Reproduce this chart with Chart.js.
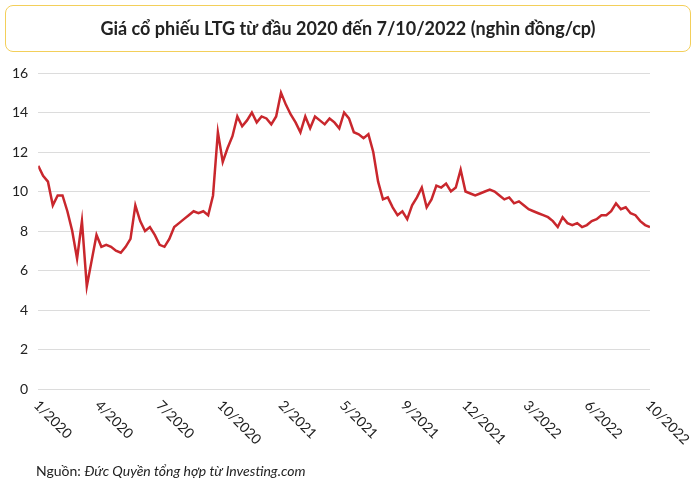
<!DOCTYPE html>
<html>
<head>
<meta charset="utf-8">
<script src="https://cdn.jsdelivr.net/npm/chart.js@4"></script>
<style>
  body { margin: 0; width: 700px; height: 490px; background: #fff; font-family: Lato, sans-serif; position: relative; overflow: hidden; }
  #title { position: absolute; left: 5px; top: 5px; width: 684px; height: 45px; border: 1.5px solid #f3cf5a; border-radius: 8px;
           text-align: center; line-height: 45px; font-weight: bold; font-size: 18px; color: #222; }
  #src { position: absolute; left: 36px; top: 462px; font-size: 14px; color: #222; }
  #wrap { position: absolute; left: 0; top: 0; width: 700px; height: 490px; }
</style>
</head>
<body>
<div id="wrap"><canvas id="priceChart"></canvas></div>
<div id="title">Giá cổ phiếu LTG từ đầu 2020 đến 7/10/2022 (nghìn đồng/cp)</div>
<div id="src">Nguồn: <i>Đức Quyền tổng hợp từ Investing.com</i></div>
<script>
// giá đóng cửa (nghìn đồng/cp)
const prices = [11.3, 10.8, 10.5, 9.3, 9.8, 9.8, 9.0, 8.0, 6.6, 8.5, 5.2, 6.5, 7.8, 7.2, 7.3, 7.2, 7.0, 6.9, 7.2, 7.6,
  9.3, 8.5, 8.0, 8.2, 7.8, 7.3, 7.2, 7.6, 8.2, 8.4, 8.6, 8.8, 9.0, 8.9, 9.0, 8.8, 9.8, 13.0, 11.5, 12.2,
  12.8, 13.8, 13.3, 13.6, 14.0, 13.5, 13.8, 13.7, 13.4, 13.8, 15.0, 14.4, 13.9, 13.5, 13.0, 13.8, 13.2, 13.8, 13.6, 13.4,
  13.7, 13.5, 13.2, 14.0, 13.7, 13.0, 12.9, 12.7, 12.9, 12.0, 10.5, 9.6, 9.7, 9.2, 8.8, 9.0, 8.6, 9.3, 9.7, 10.2,
  9.2, 9.6, 10.3, 10.2, 10.4, 10.0, 10.2, 11.1, 10.0, 9.9, 9.8, 9.9, 10.0, 10.1, 10.0, 9.8, 9.6, 9.7, 9.4, 9.5,
  9.3, 9.1, 9.0, 8.9, 8.8, 8.7, 8.5, 8.2, 8.7, 8.4, 8.3, 8.4, 8.2, 8.3, 8.5, 8.6, 8.8, 8.8, 9.0, 9.4,
  9.1, 9.2, 8.9, 8.8, 8.5, 8.3, 8.2];
const tickLabels = ['1/2020', '4/2020', '7/2020', '10/2020', '2/2021', '5/2021', '9/2021', '12/2021', '3/2022', '6/2022', '10/2022'];
const yTicks = [0, 2, 4, 6, 8, 10, 12, 14, 16];

const step = (prices.length - 1) / (tickLabels.length - 1);
const points = prices.map((v, i) => ({ x: i, y: v }));

// vẽ nhãn trục X nghiêng xuống bên phải
const slantLabels = {
  id: 'slantLabels',
  afterDraw(chart) {
    const ctx = chart.ctx;
    const xs = chart.scales.x;
    const bottom = chart.chartArea.bottom;
    ctx.save();
    ctx.font = '14px Lato';
    ctx.fillStyle = '#222';
    ctx.textAlign = 'left';
    ctx.textBaseline = 'middle';
    tickLabels.forEach((t, k) => {
      const px = xs.getPixelForValue(k * step);
      ctx.save();
      ctx.translate(px - 2, bottom + 14);
      ctx.rotate(Math.PI / 4);
      ctx.fillText(t, 0, 0);
      ctx.restore();
    });
    ctx.restore();
  }
};

new Chart(document.getElementById('priceChart'), {
  type: 'line',
  data: {
    datasets: [{
      data: points,
      borderColor: '#c9272d',
      borderWidth: 2.5,
      pointRadius: 0,
      tension: 0
    }]
  },
  options: {
    responsive: true,
    maintainAspectRatio: false,
    animation: false,
    layout: { padding: { top: 73, bottom: 93, left: 2, right: 50 } },
    plugins: { legend: { display: false }, tooltip: { enabled: false } },
    scales: {
      x: {
        type: 'linear', min: 0, max: prices.length - 1,
        grid: { display: false }, border: { display: false },
        ticks: { display: false }
      },
      y: {
        min: 0, max: 16,
        afterBuildTicks: s => { s.ticks = yTicks.map(v => ({ value: v })); },
        grid: { color: '#dcdcdc', drawTicks: false },
        border: { display: false },
        ticks: { color: '#222', font: { family: 'Lato', size: 14 }, padding: 10 }
      }
    }
  },
  plugins: [slantLabels]
});
</script>
</body>
</html>
